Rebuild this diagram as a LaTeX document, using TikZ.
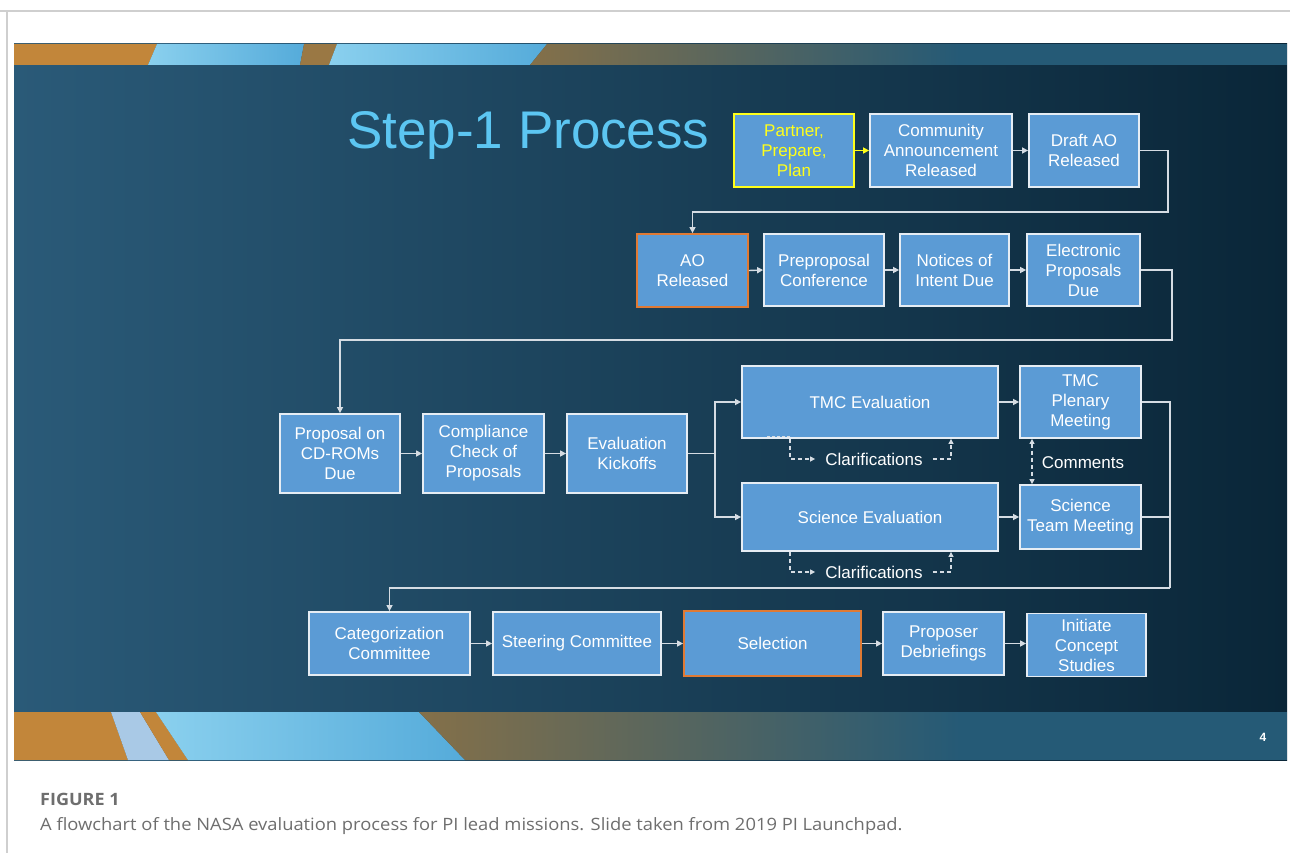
\documentclass[tikz,border=0pt]{standalone}
\usepackage{fontspec}
\setmainfont{Liberation Sans}
\newfontfamily\capfont{Open Sans}
\usetikzlibrary{arrows.meta,calc}
\definecolor{slideL}{HTML}{2A5A78}
\definecolor{slideM}{HTML}{163F58}
\definecolor{slideR}{HTML}{0A2638}
\definecolor{bandorange}{HTML}{C2863A}
\definecolor{bandbrown}{HTML}{9A7844}
\definecolor{palebl}{HTML}{A9C9E6}
\definecolor{lbA}{HTML}{8AD0EE}
\definecolor{lbB}{HTML}{55ABDA}
\definecolor{gbrown}{HTML}{847049}
\definecolor{gteal}{HTML}{255A76}
\definecolor{boxfill}{HTML}{5B9BD5}
\definecolor{boxline}{HTML}{E6EDF4}
\definecolor{lineclr}{HTML}{D5DCE3}
\definecolor{titleblue}{HTML}{5CC6F2}
\definecolor{yel}{HTML}{FFFF1A}
\definecolor{orb}{HTML}{E07A34}
\definecolor{capgray}{HTML}{6E6E6E}
\definecolor{framegray}{HTML}{CFCFCF}
\begin{document}
\begin{tikzpicture}[x=1pt,y=-1pt,
  box/.style={draw=boxline, line width=1.8pt, fill=boxfill, text=white, align=center,
    font=\fontsize{17}{20}\selectfont, inner sep=0pt},
  conn/.style={draw=lineclr, line width=1.4pt, -{Triangle[length=6pt,width=6pt]}},
  plain/.style={draw=lineclr, line width=1.4pt},
  dconn/.style={draw=lineclr, line width=1.2pt, dash pattern=on 4pt off 3pt},
  lbl/.style={text=white, font=\fontsize{17}{20}\selectfont, inner sep=0pt}
]
\useasboundingbox (0,0) rectangle (1290,853);
\fill[white] (0,0) rectangle (1290,853);
\draw[framegray, line width=1.2pt] (0,11) -- (1290,11);
\draw[framegray, line width=1.2pt] (7,11) -- (7,853);

% slide body
\shade[left color=slideL, middle color=slideM, right color=slideR] (14,44) rectangle (1287,760);

% top band
\fill[bandorange] (14,44) -- (157,44) -- (148,65) -- (14,65) -- cycle;
\shade[left color=lbA, right color=lbB] (157,44) -- (304,44) -- (300,65) -- (148,65) -- cycle;
\fill[bandbrown] (304,44) -- (337,44) -- (329,65) -- (300,65) -- cycle;
\shade[left color=lbA, right color=lbB] (337,44) -- (547,44) -- (530,65) -- (329,65) -- cycle;
\shade[left color=gbrown, right color=gteal] (547,44) -- (960,44) -- (960,65) -- (530,65) -- cycle;
\fill[gteal] (959,44) rectangle (1287,65);

% bottom band
\fill[bandorange] (14,712) -- (111,712) -- (128,760) -- (14,760) -- cycle;
\fill[palebl] (111,712) -- (140,712) -- (169,760) -- (128,760) -- cycle;
\fill[bandorange] (140,712) -- (156,712) -- (188,760) -- (169,760) -- cycle;
\shade[left color=lbA, right color=lbB] (156,712) -- (419,712) -- (465,760) -- (188,760) -- cycle;
\shade[left color=gbrown, right color=gteal] (419,712) -- (960,712) -- (960,760) -- (465,760) -- cycle;
\fill[gteal] (959,712) rectangle (1287,760);

% title and page number
\node[anchor=base west, text=titleblue, font=\fontsize{53}{63}\selectfont, inner sep=0pt] (title) at (347,149) {Step-1 Process};
\node[text=white, font=\bfseries\fontsize{12}{14}\selectfont, inner sep=0pt] (pg) at (1263,737) {4};

% row 1
\node[box, draw=yel, text=yel, minimum width=120pt, minimum height=73pt] (partner) at (794,150.5) {Partner,\\Prepare,\\Plan};
\node[box, minimum width=142pt, minimum height=73pt] (community) at (941,150.5) {Community\\Announcement\\Released};
\node[box, minimum width=110pt, minimum height=73pt] (draft) at (1084,150.5) {Draft AO\\Released};
% row 2
\node[box, draw=orb, minimum width=111pt, minimum height=73pt] (ao) at (692.5,270.5) {AO\\Released};
\node[box, minimum width=120pt, minimum height=72pt] (prep) at (824,270) {Preproposal\\Conference};
\node[box, minimum width=109pt, minimum height=72pt] (notices) at (954.5,270) {Notices of\\Intent Due};
\node[box, minimum width=113pt, minimum height=72pt] (elec) at (1083.5,270) {Electronic\\Proposals\\Due};
% row 3
\node[box, minimum width=120pt, minimum height=79pt] (cdrom) at (340,453.5) {Proposal on\\CD-ROMs\\Due};
\node[box, minimum width=121pt, minimum height=79pt] (compl) at (483.5,453.5) {Compliance\\Check of\\Proposals};
\node[box, minimum width=120pt, minimum height=79pt] (evalk) at (627,453.5) {Evaluation\\Kickoffs};
\node[box, minimum width=256pt, minimum height=72pt] (tmc) at (870,402) {TMC Evaluation};
\node[box, minimum width=121pt, minimum height=72pt] (plen) at (1080.5,402) {TMC\\Plenary\\Meeting};
\node[box, minimum width=256pt, minimum height=68pt] (sci) at (870,517) {Science Evaluation};
\node[box, minimum width=121pt, minimum height=64pt] (team) at (1080.5,517) {Science\\Team Meeting};
% row 4
\node[box, minimum width=161pt, minimum height=63pt] (cat) at (389.5,643.5) {Categorization\\Committee};
\node[box, minimum width=168pt, minimum height=63pt] (steer) at (577,643.5) {Steering Committee};
\node[box, draw=orb, minimum width=177pt, minimum height=65pt] (sel) at (772.5,643.5) {Selection};
\node[box, minimum width=121pt, minimum height=63pt] (deb) at (943.5,643.5) {Proposer\\Debriefings};
\node[box, minimum width=119pt, minimum height=63pt] (init) at (1086.5,645) {Initiate\\Concept\\Studies};

% labels
\node[lbl] (clar1) at (874,459) {Clarifications};
\node[lbl] (clar2) at (874,572) {Clarifications};
\node[lbl] (comm) at (1083,463) {Comments};

% turn points
\coordinate (turnA) at (1168,212);
\coordinate (turnB) at (1172,340);
\coordinate (split) at (715,453.5);
\coordinate (turnC) at (1170,588);

% connectors row 1
\draw[conn, draw=yel, -{Triangle[length=6pt,width=6pt,fill=yel]}] (partner.east) -- (community.west);
\draw[conn] (community.east) -- (draft.east -| draft.west);
\draw[conn] (draft.east) -| (turnA) -| (ao.north);
% row 2
\draw[conn] (ao.east) -- (prep.west);
\draw[conn] (prep.east) -- (notices.west);
\draw[conn] (notices.east) -- (elec.west);
\draw[conn] (elec.east) -| (turnB) -| (cdrom.north);
% row 3
\draw[conn] (cdrom.east) -- (compl.west);
\draw[conn] (compl.east) -- (evalk.west);
\draw[plain] (evalk.east) -- (split);
\draw[conn] (split) |- (tmc.west);
\draw[conn] (split) |- (sci.west);
\draw[conn] (tmc.east) -- (plen.west);
\draw[conn] (sci.east) -- (team.west);
\draw[plain] (plen.east) -| (turnC);
\draw[plain] (team.east) -- (team.east -| turnC);
\draw[conn] (turnC) -| (cat.north);
% row 4
\draw[conn] (cat.east) -- (steer.west);
\draw[conn] (steer.east) -- (sel.west);
\draw[conn] (sel.east) -- (deb.west);
\draw[conn] (deb.east) -- (init.west |- deb.east);

% dashed clarifications / comments
\draw[dconn, -{Triangle[length=5pt,width=5pt]}] ([xshift=-80pt]tmc.south) |- ([xshift=-10pt]clar1.west);
\draw[dconn, -{Triangle[length=5pt,width=5pt]}] ([xshift=10pt]clar1.east) -| ([xshift=81pt]tmc.south);
\draw[dconn, -{Triangle[length=5pt,width=5pt]}] ([xshift=-80pt]sci.south) |- ([xshift=-10pt]clar2.west);
\draw[dconn, -{Triangle[length=5pt,width=5pt]}] ([xshift=10pt]clar2.east) -| ([xshift=81pt]sci.south);
\draw[dconn, {Triangle[length=5pt,width=5pt]}-{Triangle[length=5pt,width=5pt]}] ([xshift=-48.5pt]plen.south) -- ([xshift=-48.5pt]team.north);
\draw[dconn, line width=1pt, dash pattern=on 3pt off 2pt] ([xshift=-103pt,yshift=2pt]tmc.south) -- ([xshift=-80pt,yshift=2pt]tmc.south);

% caption
\node[anchor=base west, inner sep=0pt, text=capgray, font=\capfont\bfseries\fontsize{17}{20}\selectfont] (fig) at (40,805) {\scalebox{1.06}[1]{FIGURE 1}};
\node[anchor=base west, inner sep=0pt, text=capgray, font=\capfont\fontsize{17}{20}\selectfont] (cap) at (40,830) {\scalebox{1.08}[1]{A flowchart of the NASA evaluation process for PI lead missions. Slide taken from 2019 PI Launchpad.}};
\end{tikzpicture}
\end{document}
